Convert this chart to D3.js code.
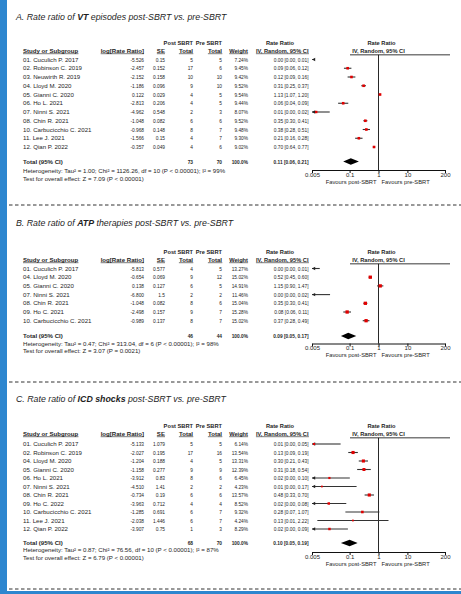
<!DOCTYPE html>
<html><head><meta charset="utf-8">
<script src="https://cdn.jsdelivr.net/npm/d3@7"></script>
<style>
body{margin:0;background:#fff;}
svg{display:block;}
text{font-family:"Liberation Sans",Arial,sans-serif;fill:#1e1e1e;}
</style></head><body>
<svg id="chart" width="461" height="594"></svg>
<script>
// ---------- DATA ----------
const tickValues = [0.005, 0.1, 1, 10, 200];
const tickLabels = ["0.005", "0.1", "1", "10", "200"];

// Panel A: VT episodes
const studiesA = ["01. Cuculich P. 2017","02. Robinson C. 2019","03. Neuwirth R. 2019","04. Lloyd M. 2020","05. Gianni C. 2020","06. Ho L. 2021","07. Ninni S. 2021","08. Chin R. 2021","10. Carbucicchio C. 2021","11. Lee J. 2021","12. Qian P. 2022"];
const logRRA = [-5.526,-2.457,-2.152,-1.186,0.122,-2.813,-4.962,-1.048,-0.968,-1.566,-0.357];
const seA = [0.15,0.152,0.158,0.096,0.029,0.206,0.548,0.082,0.148,0.15,0.049];
const postA = [5,17,10,9,4,4,2,6,8,4,4];
const preA = [5,6,10,10,5,5,3,6,7,7,6];
const weightA = [7.24,9.45,9.42,9.52,9.54,9.44,8.07,9.52,9.48,9.30,9.02];
const overallA = [0.11,0.06,0.21];
const hetA = "Heterogeneity: Tau\u00b2 = 1.00; Chi\u00b2 = 1126.26, df = 10 (P < 0.00001); I\u00b2 = 99%";
const testA = "Test for overall effect: Z = 7.09 (P < 0.00001)";

// Panel B: ATP therapies
const studiesB = ["01. Cuculich P. 2017","04. Lloyd M. 2020","05. Gianni C. 2020","07. Ninni S. 2021","08. Chin R. 2021","09. Ho C. 2021","10. Carbucicchio C. 2021"];
const logRRB = [-5.813,-0.654,0.138,-6.8,-1.048,-2.498,-0.989];
const seB = [0.577,0.069,0.127,1.5,0.082,0.157,0.137];
const postB = [4,9,6,2,8,9,8];
const preB = [5,12,5,2,6,7,7];
const weightB = [13.27,15.02,14.91,11.46,15.04,15.28,15.02];
const overallB = [0.09,0.05,0.17];
const hetB = "Heterogeneity: Tau\u00b2 = 0.47; Chi\u00b2 = 313.04, df = 6 (P < 0.00001); I\u00b2 = 98%";
const testB = "Test for overall effect: Z = 3.07 (P = 0.0021)";

// Panel C: ICD shocks
const studiesC = ["01. Cuculich P. 2017","02. Robinson C. 2019","04. Lloyd M. 2020","05. Gianni C. 2020","06. Ho L. 2021","07. Ninni S. 2021","08. Chin R. 2021","09. Ho C. 2022","10. Carbucicchio C. 2021","11. Lee J. 2021","12. Qian P. 2022"];
const logRRC = [-5.133,-2.027,-1.204,-1.158,-3.912,-4.51,-0.734,-3.963,-1.285,-2.038,-3.907];
const seC = [1.079,0.195,0.188,0.277,0.83,1.41,0.19,0.712,0.691,1.446,0.75];
const postC = [5,17,4,9,8,2,6,4,6,6,1];
const preC = [5,16,5,9,6,2,6,4,7,7,3];
const weightC = [6.14,13.54,13.31,12.39,6.45,4.23,13.57,8.52,9.32,4.24,8.29];
const overallC = [0.10,0.05,0.19];
const hetC = "Heterogeneity: Tau\u00b2 = 0.87; Chi\u00b2 = 76.56, df = 10 (P < 0.00001); I\u00b2 = 87%";
const testC = "Test for overall effect: Z = 6.79 (P < 0.00001)";

// ---------- LAYOUT ----------
const svg = d3.select("#chart");
const FS = 6.1;       // labels
const FSN = 6.0;      // numbers
const SQ = 0.8;       // horizontal squeeze of numeric text
const col = {name:23, log:144, se:165, post:193, pre:222, weight:248, ci:308.5, ciMid:280};
const x = d3.scaleLog().domain([0.005, 200]).range([312, 445]);
const null1 = x(1);

const panels = [
  {title:["A. Rate ratio of ","VT"," episodes post-SBRT vs. pre-SBRT"], studies:studiesA, log:logRRA, se:seA, post:postA, pre:preA, w:weightA, overall:overallA, het:hetA, test:testA,
   L:{title:17, h1:42.5, h2:50.5, row0:59.5, dy:8.75, total:161.5, het:171, test:179, axis:170}},
  {title:["B. Rate ratio of ","ATP"," therapies post-SBRT vs. pre-SBRT"], studies:studiesB, log:logRRB, se:seB, post:postB, pre:preB, w:weightB, overall:overallB, het:hetB, test:testB,
   L:{title:223, h1:251.5, h2:259.5, row0:268.5, dy:8.7, total:336, het:343.5, test:351, axis:343.5}},
  {title:["C. Rate ratio of ","ICD shocks"," post-SBRT vs. pre-SBRT"], studies:studiesC, log:logRRC, se:seC, post:postC, pre:preC, w:weightC, overall:overallC, het:hetC, test:testC,
   L:{title:399, h1:425.5, h2:433.5, row0:444, dy:8.5, total:543, het:550, test:558, axis:552}}
];

svg.append("rect").attr("x",0).attr("y",0).attr("width",7).attr("height",594).attr("fill","#2d86cf");
svg.append("rect").attr("x",0).attr("y",591).attr("width",461).attr("height",3).attr("fill","#2d86cf");

[205, 382, 589].forEach(y=>{
  svg.append("line").attr("x1",9).attr("x2",461).attr("y1",y).attr("y2",y)
    .attr("stroke","#333").attr("stroke-width",1).attr("stroke-dasharray","3.5,2.5");
});

function txt(g, s, xx, y, anchor, bold, size){
  return g.append("text").attr("x",xx).attr("y",y).attr("text-anchor",anchor||"start")
    .attr("font-size",size||FS).attr("font-weight",bold?"bold":"normal").text(s);
}
function num(g, s, xx, y, anchor, bold){
  const t = txt(g, s, xx, y, anchor, bold, FSN);
  const len = t.node().getComputedTextLength();
  t.attr("textLength", len*SQ).attr("lengthAdjust","spacingAndGlyphs");
  return t;
}
function underline(g, t){
  const b = t.node().getBBox();
  g.append("line").attr("x1",b.x).attr("x2",b.x+b.width).attr("y1",b.y+b.height+0.2).attr("y2",b.y+b.height+0.2)
    .attr("stroke","#222").attr("stroke-width",0.6);
}
const f2 = v => v.toFixed(2);

panels.forEach(p=>{
  const g = svg.append("g");
  const L = p.L;
  const t = g.append("text").attr("x",16).attr("y",L.title+3).attr("font-size",8.8).attr("font-style","italic");
  t.append("tspan").text(p.title[0]);
  t.append("tspan").attr("font-weight","bold").text(p.title[1]);
  t.append("tspan").text(p.title[2]);

  const b1 = L.h1 + 2, b2 = L.h2 + 2;
  txt(g,"Post SBRT",col.post,b1,"end",true,5.7);
  txt(g,"Pre SBRT",col.pre,b1,"end",true,5.7);
  txt(g,"Rate Ratio",col.ciMid,b1,"middle",true,5.7);
  txt(g,"Rate Ratio",null1+3,b1,"middle",true,5.7);
  underline(g, txt(g,"Study or Subgroup",col.name,b2,"start",true));
  underline(g, txt(g,"log[Rate Ratio]",col.log,b2,"end",true));
  underline(g, txt(g,"SE",col.se,b2,"end",true));
  underline(g, txt(g,"Total",col.post,b2,"end",true));
  underline(g, txt(g,"Total",col.pre,b2,"end",true));
  underline(g, txt(g,"Weight",col.weight,b2,"end",true,5.7));
  underline(g, txt(g,"IV, Random, 95% CI",col.ci,b2,"end",true,5.7));
  txt(g,"IV, Random, 95% CI",null1,b2,"middle",true,5.7);
  const lineY = L.h2 + 4.3;
  g.append("line").attr("x1",350).attr("x2",450).attr("y1",lineY).attr("y2",lineY)
    .attr("stroke","#7a7a7a").attr("stroke-width",1.4);

  g.append("line").attr("x1",null1).attr("x2",null1).attr("y1",lineY).attr("y2",L.axis)
    .attr("stroke","#111").attr("stroke-width",0.9);

  p.studies.forEach((s,i)=>{
    const y = L.row0 + i*L.dy, by = y + 2.1;
    const lg = p.log[i], se = p.se[i];
    const rr = Math.exp(lg), lo = Math.exp(lg-1.96*se), hi = Math.exp(lg+1.96*se);
    txt(g,s,col.name,by);
    num(g,lg.toFixed(3),col.log,by,"end");
    num(g,String(se),col.se,by,"end");
    num(g,String(p.post[i]),col.post,by,"end");
    num(g,String(p.pre[i]),col.pre,by,"end");
    num(g,p.w[i].toFixed(2)+"%",col.weight,by,"end");
    num(g,`${f2(rr)} [${f2(lo)}, ${f2(hi)}]`,col.ci,by,"end");

    const [dmin,dmax] = x.domain();
    const x0 = x(Math.max(lo,dmin)), x1 = x(Math.min(hi,dmax));
    if (x1 > x0) {
      g.append("line").attr("x1",x0).attr("x2",x1).attr("y1",y).attr("y2",y)
        .attr("stroke","#333").attr("stroke-width",1.1);
    }
    if (lo < dmin) {
      const ax = x(dmin);
      g.append("path").attr("d",`M${ax},${y}L${ax+3.2},${y-1.7}L${ax+3.2},${y+1.7}Z`).attr("fill","#222");
    }
    if (hi > dmax) {
      const ax = x(dmax);
      g.append("path").attr("d",`M${ax},${y}L${ax-3.2},${y-1.7}L${ax-3.2},${y+1.7}Z`).attr("fill","#222");
    }
    if (rr >= dmin && rr <= dmax) {
      const sz = Math.sqrt(p.w[i])*0.85;
      g.append("rect").attr("x",x(rr)-sz/2).attr("y",y-sz/2).attr("width",sz).attr("height",sz).attr("fill","#e00000");
    }
  });

  const ty = L.total + 2.1;
  txt(g,"Total (95% CI)",col.name,ty,"start",true);
  num(g,String(d3.sum(p.post)),col.post,ty,"end",true);
  num(g,String(d3.sum(p.pre)),col.pre,ty,"end",true);
  num(g,"100.0%",col.weight,ty,"end",true);
  const [orr,olo,ohi] = p.overall;
  num(g,`${f2(orr)} [${f2(olo)}, ${f2(ohi)}]`,col.ci,ty,"end",true);
  g.append("path").attr("d",`M${x(olo)},${L.total}L${x(orr)},${L.total-3.3}L${x(ohi)},${L.total}L${x(orr)},${L.total+3.3}Z`).attr("fill","#000");

  txt(g,p.het,col.name,L.het+2.1);
  txt(g,p.test,col.name,L.test+2.1);

  const ax = g.append("g").attr("transform",`translate(0,${L.axis})`)
    .call(d3.axisBottom(x).tickValues(tickValues).tickFormat((d,i)=>tickLabels[i]).tickSize(3).tickSizeOuter(0));
  ax.select(".domain").attr("stroke","#111");
  ax.selectAll(".tick line").attr("stroke","#111");
  ax.selectAll(".tick text").attr("font-size",FSN).attr("font-family","Liberation Sans, Arial, sans-serif").attr("fill","#1e1e1e").attr("dy","0.55em").attr("y",3.5);
  txt(g,"Favours post-SBRT",null1-2,L.axis+13.5,"end",false,5.8);
  txt(g,"Favours pre-SBRT",null1+3,L.axis+13.5,"start",false,5.8);
});
</script>
</body></html>
